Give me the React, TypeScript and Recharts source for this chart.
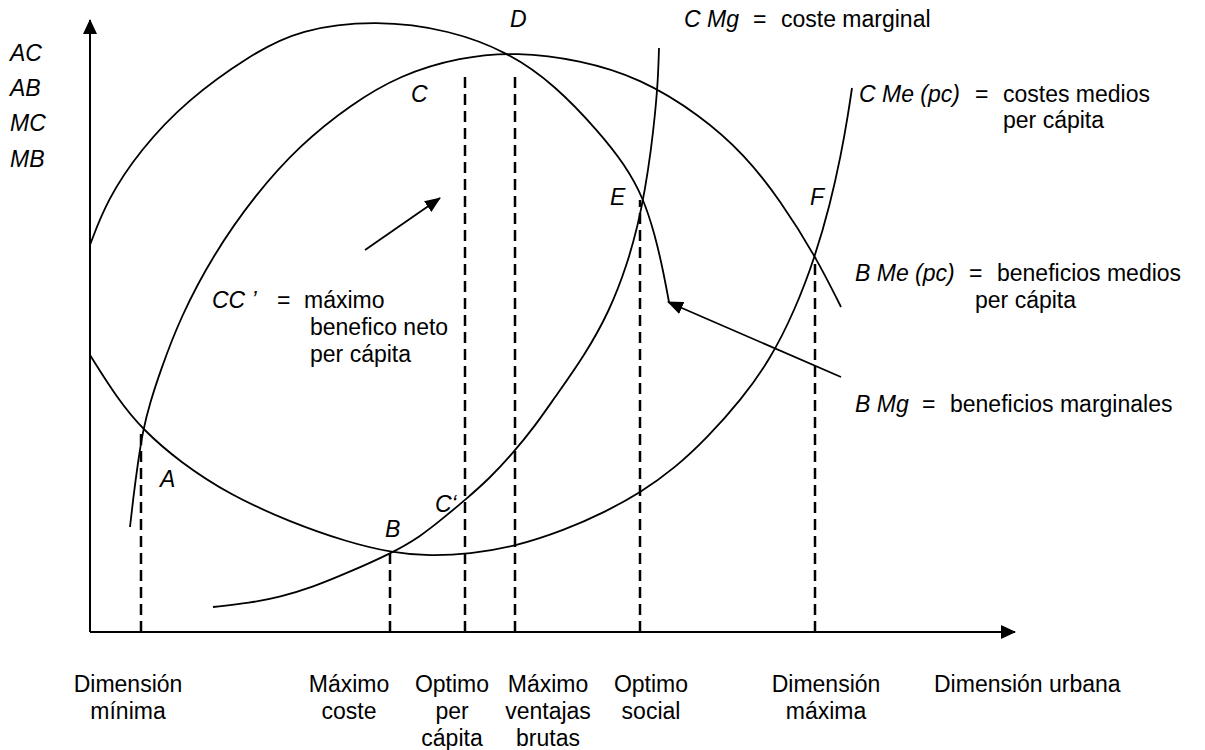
import React from "react";
import { ComposedChart, Line, XAxis, YAxis, ReferenceLine } from "recharts";

// x = dimensión urbana, y = costes / beneficios (arbitrary units)
const bMg: [number, number][] = [
  [0, 38.7], [1.7, 43.2], [5.0, 48.2], [9.7, 53.2], [16.0, 57.7], [21.0, 60.3], [28.7, 61.2],
  [36.0, 60.2], [41.8, 58.0], [46.5, 54.7], [51.0, 49.9], [53.5, 46.7], [55.3, 43.5],
  [56.5, 39.7], [57.3, 36.2], [57.9, 33.0],
];

const bMe: [number, number][] = [
  [4.0, 10.5], [4.3, 13.2], [4.8, 17.0], [5.3, 20.2], [6.0, 22.9], [7.0, 26.0], [9.0, 31.4],
  [12.3, 37.7], [16.5, 43.7], [21.0, 48.7], [26.0, 52.7], [31.0, 55.7], [37.0, 57.5],
  [42.7, 58.0], [49.0, 57.2], [55.0, 55.4], [61.0, 51.7], [65.5, 47.7], [69.0, 43.2],
  [72.6, 37.5], [75.1, 32.5],
];

const cMe: [number, number][] = [
  [0, 27.7], [2.7, 23.4], [5.3, 20.2], [9.0, 17.0], [14.0, 13.7], [20.0, 11.0], [25.7, 9.0],
  [30.3, 7.9], [34.0, 7.6], [38.0, 7.8], [42.3, 8.5], [47.5, 10.2], [51.5, 12.0], [55.0, 13.9],
  [58.5, 16.4], [61.7, 19.4], [65.1, 23.2], [68.0, 27.2], [70.5, 32.2], [72.5, 37.5],
  [74.0, 42.7], [75.1, 47.7], [75.8, 51.7], [76.2, 54.4],
];

const cMg: [number, number][] = [
  [12.3, 2.5], [16.0, 2.9], [19.0, 3.5], [22.3, 4.5], [25.7, 5.9], [30.0, 7.8], [33.0, 9.5],
  [35.7, 11.7], [37.5, 13.2], [40.0, 15.4], [42.3, 17.9], [44.5, 20.6], [46.3, 23.2],
  [49.5, 27.7], [52.0, 32.2], [53.7, 36.7], [54.8, 40.7], [55.5, 44.2], [56.1, 48.2],
  [56.5, 51.7], [56.8, 55.2], [56.9, 58.4],
];

// dashed drop lines (A, B, C, D, E, F)
const dropX = [5.1, 30.0, 37.5, 42.5, 55.0, 72.5];
const dropTop = [20.2, 7.8, 56.1, 56.1, 43.2, 37.5];

// annotation arrows: [fromX, fromY, toX, toY]
const notes: [number, number, number, number][] = [
  [27.5, 38.2, 35.0, 43.4],
  [75.1, 25.5, 57.8, 33.0],
];

const tickX = [3.8, 25.9, 36.2, 45.8, 56.1, 73.6];
const tickLabels = [
  ["Dimensión", "mínima"],
  ["Máximo", "coste"],
  ["Optimo", "per", "cápita"],
  ["Máximo", "ventajas", "brutas"],
  ["Optimo", "social"],
  ["Dimensión", "máxima"],
];

const FONT = '"Liberation Sans", Arial, Helvetica, sans-serif';
const FS = 23;

const pts = (arr: [number, number][]) => arr.map(([x, y]) => ({ x, y }));

function XTick(props: any) {
  const { x, y, payload } = props;
  const lines = tickLabels[tickX.indexOf(payload.value)] || [];
  return (
    <text x={x} y={y} textAnchor="middle" fontSize={FS} fill="#000">
      {lines.map((l, k) => (
        <tspan key={k} x={x} y={y + 60 + 27 * k}>{l}</tspan>
      ))}
    </text>
  );
}

const T = ({ x, y, it, children }: { x: number; y: number; it?: boolean; children: React.ReactNode }) => (
  <text x={x} y={y} fontSize={FS} fontStyle={it ? "italic" : "normal"} fill="#000">
    {children}
  </text>
);

export default function App() {
  const curves = [bMg, bMe, cMe, cMg];
  return (
    <div style={{ position: "absolute", left: 0, top: 0, width: 1205, height: 750, background: "#fff", fontFamily: FONT }}>
      <svg width={0} height={0} style={{ position: "absolute" }}>
        <defs>
          <marker id="axisHead" viewBox="0 0 15 14" refX={14} refY={7} markerWidth={15} markerHeight={14}
            markerUnits="userSpaceOnUse" orient="auto-start-reverse">
            <path d="M0,0 L15,7 L0,14 Z" fill="#000" />
          </marker>
          <marker id="noteHead" viewBox="0 0 16 13" refX={15} refY={6.5} markerWidth={16} markerHeight={13}
            markerUnits="userSpaceOnUse" orient="auto">
            <path d="M0,0 L16,6.5 L0,13 Z" fill="#000" />
          </marker>
        </defs>
      </svg>
      <ComposedChart width={1205} height={750} margin={{ top: 20, right: 190, bottom: 0, left: 0 }}>
        <XAxis type="number" dataKey="x" domain={[0, 92.5]} ticks={tickX} interval={0} height={118}
          tickLine={false} tickSize={0} tickMargin={0} tick={<XTick />}
          axisLine={{ stroke: "#000", strokeWidth: 2, markerEnd: "url(#axisHead)" }} />
        <YAxis type="number" domain={[0, 61.2]} width={90} tick={false} tickLine={false}
          axisLine={{ stroke: "#000", strokeWidth: 2, markerStart: "url(#axisHead)" }} />

        {dropX.map((x, i) => (
          <ReferenceLine key={"d" + i} segment={[{ x, y: 0 }, { x, y: dropTop[i] }]}
            stroke="#000" strokeWidth={2.5} strokeDasharray="11 6" ifOverflow="visible" />
        ))}

        {curves.map((c, i) => (
          <Line key={"c" + i} data={pts(c)} dataKey="y" type="basis" dot={false} activeDot={false}
            stroke="#000" strokeWidth={1.8} isAnimationActive={false} />
        ))}

        {notes.map(([x1, y1, x2, y2], i) => (
          <ReferenceLine key={"n" + i} segment={[{ x: x1, y: y1 }, { x: x2, y: y2 }]}
            stroke="#000" strokeWidth={1.8} markerEnd="url(#noteHead)" ifOverflow="visible" />
        ))}

        <T x={10} y={61} it>AC</T>
        <T x={10} y={96} it>AB</T>
        <T x={10} y={131} it>MC</T>
        <T x={10} y={167} it>MB</T>

        <T x={510} y={27} it>D</T>
        <T x={411} y={102} it>C</T>
        <T x={610} y={205} it>E</T>
        <T x={810} y={205} it>F</T>
        <T x={160} y={487} it>A</T>
        <T x={385} y={537} it>B</T>
        <T x={435} y={512} it>C‘</T>

        <T x={684} y={27} it>C Mg</T>
        <T x={753} y={27}>=</T>
        <T x={781} y={27}>coste marginal</T>

        <T x={859} y={102} it>C Me (pc)</T>
        <T x={975} y={102}>=</T>
        <T x={1003} y={102}>costes medios</T>
        <T x={1003} y={128}>per cápita</T>

        <T x={855} y={281} it>B Me (pc)</T>
        <T x={969} y={281}>=</T>
        <T x={997} y={281}>beneficios medios</T>
        <T x={975} y={308}>per cápita</T>

        <T x={855} y={412} it>B Mg</T>
        <T x={922} y={412}>=</T>
        <T x={950} y={412}>beneficios marginales</T>

        <T x={212} y={308} it>CC ’</T>
        <T x={277} y={308}>=</T>
        <T x={304} y={308}>máximo</T>
        <T x={310} y={335}>benefico neto</T>
        <T x={310} y={362}>per cápita</T>

        <T x={934} y={692}>Dimensión urbana</T>
      </ComposedChart>
    </div>
  );
}
